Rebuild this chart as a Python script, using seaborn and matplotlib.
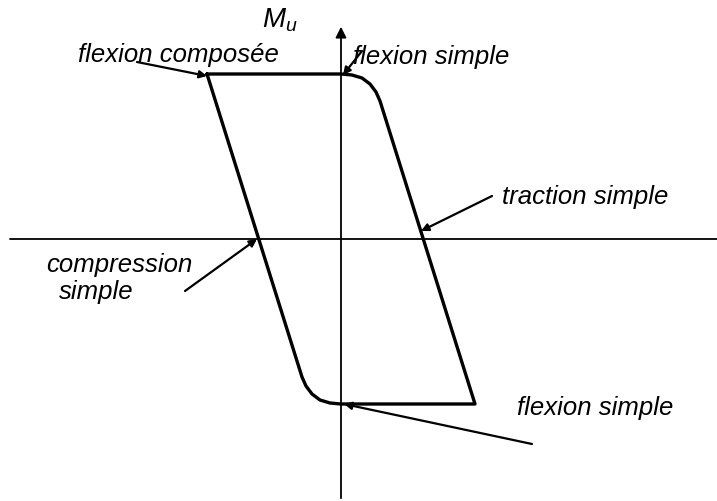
import matplotlib
matplotlib.use("Agg")
import matplotlib.pyplot as plt
import seaborn as sns
import pandas as pd

# Interaction curve (N, Mu) - closed loop
curve_N = [-134, 0, 11, 21, 29, 35, 39, 134, 0, -11, -21, -29, -35, -39, -134]
curve_M = [165, 165, 164, 161, 155, 147, 138, -165, -165, -164, -161, -155, -147, -138, 165]

# Axes extents
h_axis_N = [-331, 376]
v_axis_M = [-262, 215]

# Annotations: label, text position, arrow start, arrow target
ann_labels = ["flexion composée", "flexion simple", "traction simple", "flexion simple"]
ann_text_N = [-263, 12, 161, 176]
ann_text_M = [185, 183, 43, -168]
ann_from_N = [-204, 21, 151, 191]
ann_from_M = [177, 188, 43, -205]
ann_to_N = [-134, 2, 80, 3]
ann_to_M = [163, 164, 8, -165]

comp_lines = ["compression", "simple"]
comp_text_N = [-222, -245]
comp_text_M = [-25, -52]
comp_from = (-156, -52)
comp_to = (-84, 0)

axis_label = r"$M_u$"
axis_label_pos = (-61, 220)

sns.set_theme(style="white")
plt.rcParams["font.family"] = ["Liberation Sans", "DejaVu Sans"]
plt.rcParams["mathtext.fontset"] = "custom"
plt.rcParams["mathtext.it"] = "Liberation Sans:italic"
plt.rcParams["mathtext.rm"] = "Liberation Sans"
plt.rcParams["text.color"] = "black"

fig = plt.figure(figsize=(7.17, 5.02), dpi=100)
ax = fig.add_axes([0, 0, 1, 1])
ax.set_xlim(-341, 376)
ax.set_ylim(-262, 240)
ax.axis("off")

# axes
ax.plot(h_axis_N, [0, 0], color="black", lw=1.3)
ax.annotate("", xy=(0, v_axis_M[1]), xytext=(0, v_axis_M[0]),
            arrowprops=dict(arrowstyle="-|>", color="black", lw=1.3, mutation_scale=16))

df = pd.DataFrame({"N": curve_N, "M": curve_M})
sns.lineplot(data=df, x="N", y="M", sort=False, estimator=None, color="black",
             lw=2.4, ax=ax)

fs = 18.5
for lab, tx, ty, fx, fy, px, py in zip(ann_labels, ann_text_N, ann_text_M,
                                       ann_from_N, ann_from_M, ann_to_N, ann_to_M):
    ax.text(tx, ty, lab, fontsize=fs, style="italic", ha="left", va="center",
            color="black")
    ax.annotate("", xy=(px, py), xytext=(fx, fy),
                arrowprops=dict(arrowstyle="-|>", color="black", lw=1.6,
                                mutation_scale=11, shrinkA=0, shrinkB=0))

for lab, tx, ty in zip(comp_lines, comp_text_N, comp_text_M):
    ax.text(tx, ty, lab, fontsize=fs, style="italic", ha="center", va="center",
            color="black")
ax.annotate("", xy=comp_to, xytext=comp_from,
            arrowprops=dict(arrowstyle="-|>", color="black", lw=1.6,
                            mutation_scale=11, shrinkA=0, shrinkB=0))

ax.text(*axis_label_pos, axis_label, fontsize=20, ha="center", va="center",
        color="black")

fig.savefig("out.png", dpi=100)
